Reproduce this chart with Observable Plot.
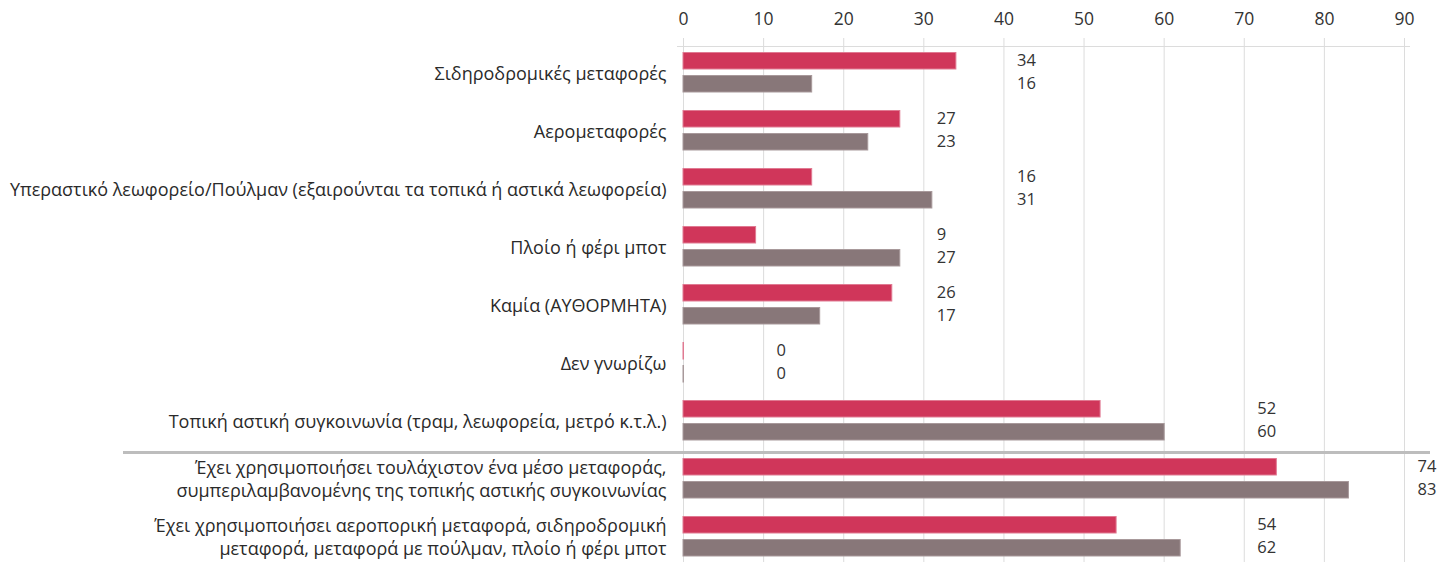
<!DOCTYPE html>
<html>
<head>
<meta charset="utf-8">
<script src="https://cdn.jsdelivr.net/npm/d3@7"></script>
<script src="https://cdn.jsdelivr.net/npm/@observablehq/plot@0.6"></script>
<style>
  html, body { margin: 0; padding: 0; overflow: hidden; background: #fff; }
  #chart svg { display: block; }
</style>
</head>
<body>
<div id="chart"></div>
<script>
const categories = [
  "Σιδηροδρομικές μεταφορές",
  "Αερομεταφορές",
  "Υπεραστικό λεωφορείο/Πούλμαν (εξαιρούνται τα τοπικά ή αστικά λεωφορεία)",
  "Πλοίο ή φέρι μποτ",
  "Καμία (ΑΥΘΟΡΜΗΤΑ)",
  "Δεν γνωρίζω",
  "Τοπική αστική συγκοινωνία (τραμ, λεωφορεία, μετρό κ.τ.λ.)",
  "Έχει χρησιμοποιήσει τουλάχιστον ένα μέσο μεταφοράς,\nσυμπεριλαμβανομένης της τοπικής αστικής συγκοινωνίας",
  "Έχει χρησιμοποιήσει αεροπορική μεταφορά, σιδηροδρομική\nμεταφορά, μεταφορά με πούλμαν, πλοίο ή φέρι μποτ"
];
const seriesA = [34, 27, 16, 9, 26, 0, 52, 74, 54];
const seriesB = [16, 23, 31, 27, 17, 0, 60, 83, 62];
const xTicks = [0, 10, 20, 30, 40, 50, 60, 70, 80, 90];

const colorA = "#d0365a";
const colorB = "#887779";

const rows = categories.map((cat, i) => ({
  cat,
  a: seriesA[i],
  b: seriesB[i],
  labelAt: Math.floor(Math.max(seriesA[i], seriesB[i]) / 10) * 10 + 10
}));

const chart = Plot.plot({
  width: 1437,
  height: 566,
  marginTop: 41,
  marginBottom: 0,
  marginLeft: 683,
  marginRight: 33,
  style: { fontFamily: "'Open Sans', sans-serif", fontSize: "17px", color: "#333", background: "#fff", overflow: "visible" },
  x: { domain: [0, 90], axis: null },
  y: { domain: categories, padding: 0, axis: null },
  marks: [
    Plot.gridX(xTicks, { stroke: "#dcdcdc", strokeOpacity: 1, insetTop: -3 }),
    Plot.ruleY([categories[0]], { stroke: "#dcdcdc", dy: -26, insetLeft: -6, insetRight: -6 }),
    Plot.axisX({ anchor: "top", ticks: xTicks, tickSize: 0, tickPadding: 17, fontSize: 17.5, fill: "#333", label: null }),
    Plot.axisY({ tickSize: 0, tickPadding: 17, fontSize: 18, lineHeight: 1.28, fill: "#2a2a2a", label: null }),
    Plot.barX(rows, { y: "cat", x: "a", fill: colorA, stroke: "#e07a92", strokeWidth: 1, insetTop: 9.5, insetBottom: 32, insetRight: -0.5 }),
    Plot.barX(rows, { y: "cat", x: "b", fill: colorB, stroke: "#a8999b", strokeWidth: 1, insetTop: 32.5, insetBottom: 9, insetRight: -0.5 }),
    Plot.ruleY([categories[7]], { stroke: "#bdbdbd", strokeWidth: 3, dy: -26, insetLeft: -560, insetRight: -26 }),
    Plot.text(rows, { y: "cat", x: "labelAt", text: d => String(d.a), dx: 13, dy: -11.5, textAnchor: "start", fontSize: 16.5, fill: "#333" }),
    Plot.text(rows, { y: "cat", x: "labelAt", text: d => String(d.b), dx: 13, dy: 11.5, textAnchor: "start", fontSize: 16.5, fill: "#333" })
  ]
});
document.getElementById("chart").appendChild(chart);
</script>
</body>
</html>
